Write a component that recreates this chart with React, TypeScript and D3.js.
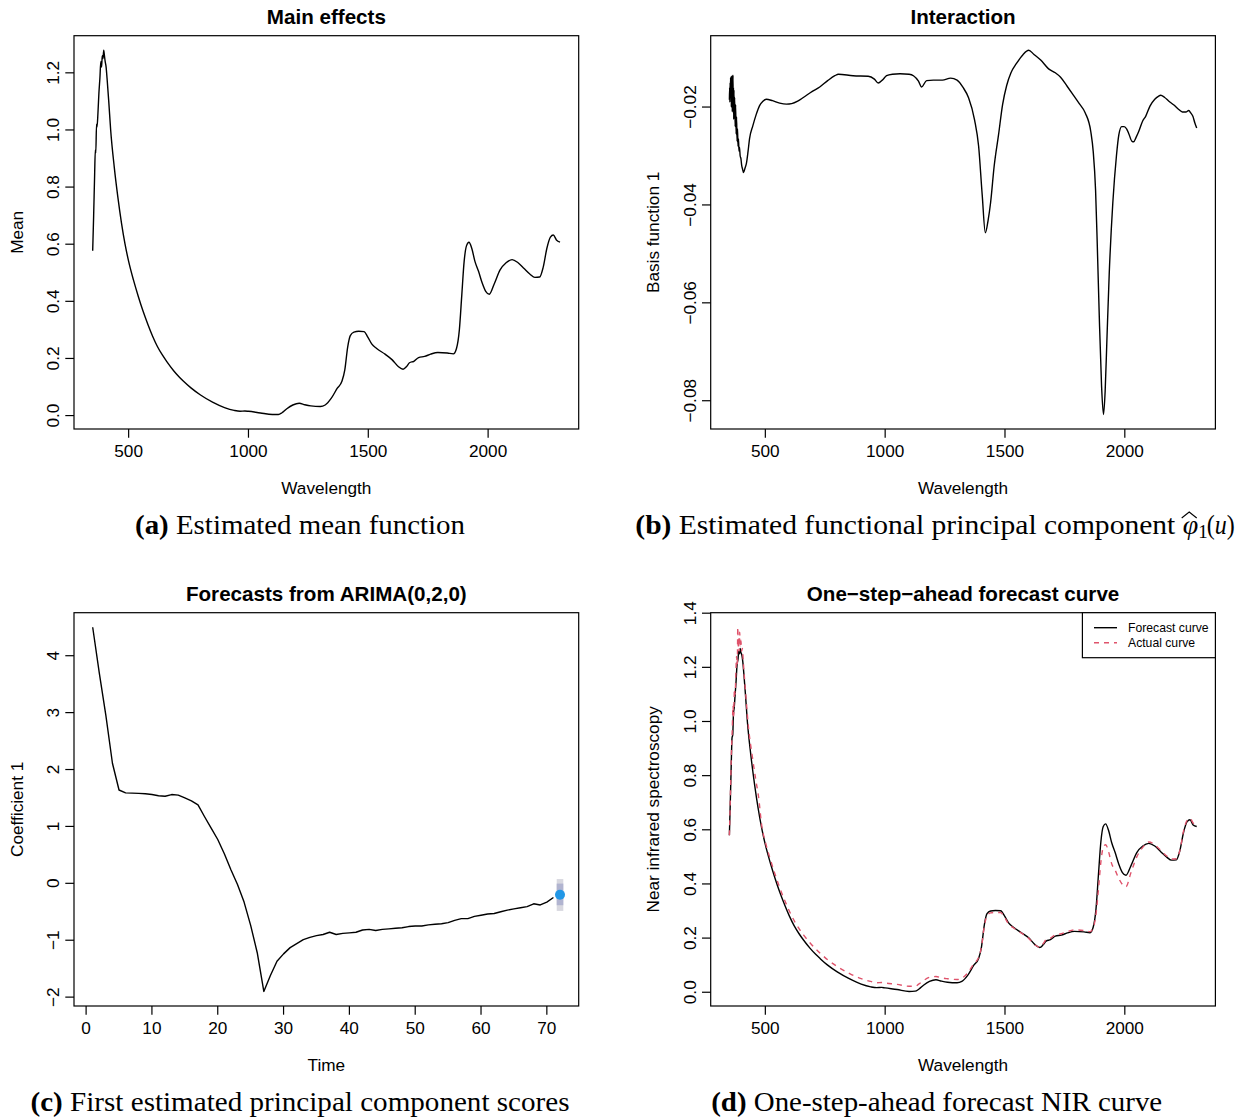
import React from 'react';
import * as d3 from 'd3';

type Pt = [number, number];

// ---------- tick labels ----------
const wavelengthTicks = [500, 1000, 1500, 2000];
const meanTicks = [0, 0.2, 0.4, 0.6, 0.8, 1.0, 1.2];
const basisTicks = [-0.08, -0.06, -0.04, -0.02];
const timeTicks = [0, 10, 20, 30, 40, 50, 60, 70];
const coefTicks = [-2, -1, 0, 1, 2, 3, 4];
const nirTicks = [0, 0.2, 0.4, 0.6, 0.8, 1.0, 1.2, 1.4];

// ---------- (a) mean function ----------
const meanCurve: Pt[] = [
  [350, 0.577], [354, 0.70], [358, 0.84], [361, 0.93], [363, 0.92], [366, 1.02], [368, 1.01],
  [372, 1.06], [376, 1.13], [380, 1.18], [384, 1.24], [387, 1.22], [390, 1.26], [393, 1.25],
  [396, 1.279], [399, 1.26], [402, 1.24], [406, 1.22], [410, 1.18], [417, 1.10], [425, 1.0],
  [440, 0.87], [455, 0.765], [470, 0.675], [485, 0.60], [500, 0.54], [520, 0.475], [540, 0.418],
  [560, 0.366], [580, 0.32], [600, 0.278], [620, 0.242], [640, 0.213], [660, 0.188], [687, 0.158],
  [710, 0.136], [729, 0.12], [760, 0.097], [800, 0.072], [850, 0.047], [900, 0.028], [940, 0.018],
  [965, 0.015], [985, 0.016], [1000, 0.015], [1050, 0.009], [1100, 0.004], [1125, 0.004],
  [1140, 0.010], [1160, 0.024], [1185, 0.037], [1212, 0.043], [1235, 0.038], [1260, 0.034],
  [1300, 0.032], [1320, 0.037], [1345, 0.060], [1370, 0.095], [1390, 0.12], [1402, 0.16],
  [1414, 0.24], [1425, 0.28], [1440, 0.292], [1460, 0.295], [1482, 0.294], [1498, 0.275],
  [1515, 0.25], [1535, 0.235], [1570, 0.215], [1600, 0.195], [1625, 0.172], [1645, 0.162],
  [1660, 0.172], [1672, 0.185], [1690, 0.19], [1710, 0.203], [1735, 0.207], [1760, 0.215],
  [1790, 0.221], [1830, 0.219], [1855, 0.216], [1868, 0.235], [1880, 0.30], [1890, 0.42],
  [1900, 0.54], [1910, 0.595], [1920, 0.607], [1932, 0.585], [1945, 0.54], [1960, 0.505],
  [1975, 0.465], [1990, 0.435], [2005, 0.425], [2025, 0.46], [2050, 0.51], [2075, 0.535],
  [2100, 0.546], [2125, 0.535], [2150, 0.515], [2175, 0.495], [2195, 0.484], [2215, 0.485],
  [2230, 0.52], [2245, 0.585], [2260, 0.625], [2272, 0.632], [2285, 0.615], [2300, 0.607],
];

// ---------- (b) basis function 1 ----------
const basisCurve: Pt[] = [
  [350, -0.0185], [351, -0.0160], [352, -0.0190], [353, -0.0150], [354, -0.0175], [355, -0.0140],
  [356, -0.0165], [357, -0.0138], [358, -0.0200], [359, -0.0145], [360, -0.0190], [361, -0.0136],
  [362, -0.0210], [363, -0.0150], [364, -0.0170], [365, -0.0135], [366, -0.0205], [367, -0.0160],
  [368, -0.0225], [369, -0.0165], [370, -0.0215], [372, -0.0180], [374, -0.0240], [376, -0.0195],
  [378, -0.0255], [380, -0.0220], [382, -0.0270], [384, -0.0245], [386, -0.0280], [388, -0.0265],
  [390, -0.0290], [392, -0.0282], [395, -0.0300], [398, -0.0305], [401, -0.0318], [405, -0.0327],
  [409, -0.0334], [415, -0.0325], [421, -0.0315], [428, -0.0290], [434, -0.0265], [448, -0.0238],
  [462, -0.0215], [476, -0.0197], [490, -0.0188], [504, -0.0184], [530, -0.0187], [560, -0.0192],
  [588, -0.0194], [610, -0.0193], [635, -0.0188], [660, -0.0180], [696, -0.0168], [727, -0.0159],
  [760, -0.0146], [790, -0.0136], [805, -0.0133], [866, -0.0136], [929, -0.0137], [955, -0.0143],
  [971, -0.0151], [988, -0.0145], [1006, -0.0136], [1030, -0.0133], [1062, -0.0132], [1100, -0.0133],
  [1118, -0.0136], [1139, -0.0147], [1152, -0.0159], [1173, -0.0146], [1201, -0.0145], [1239, -0.0145],
  [1273, -0.0141], [1300, -0.0145], [1325, -0.0160], [1348, -0.0181], [1373, -0.0226], [1390, -0.0280],
  [1405, -0.0380], [1418, -0.0457], [1430, -0.0430], [1440, -0.0395], [1455, -0.0320], [1473, -0.0257],
  [1490, -0.0195], [1507, -0.0156], [1525, -0.0130], [1548, -0.0111], [1575, -0.0093], [1599, -0.0084],
  [1620, -0.0092], [1649, -0.0104], [1682, -0.0122], [1710, -0.0130], [1732, -0.0139], [1760, -0.0158],
  [1783, -0.0174], [1810, -0.0193], [1835, -0.0212], [1858, -0.0250], [1868, -0.0290], [1878, -0.0370],
  [1885, -0.0480], [1893, -0.0620], [1903, -0.0770], [1911, -0.0828], [1918, -0.0780], [1925, -0.0680],
  [1935, -0.0540], [1950, -0.0395], [1965, -0.0300], [1975, -0.0257], [1987, -0.0240], [1997, -0.0240],
  [2008, -0.0245], [2017, -0.0255], [2030, -0.0270], [2037, -0.0271], [2047, -0.0262], [2058, -0.0250],
  [2075, -0.0228], [2087, -0.0219], [2105, -0.0198], [2125, -0.0184], [2140, -0.0178], [2150, -0.0176],
  [2165, -0.0180], [2184, -0.0188], [2205, -0.0196], [2225, -0.0205], [2240, -0.0210], [2255, -0.0210],
  [2267, -0.0207], [2275, -0.0212], [2284, -0.0219], [2292, -0.0232], [2300, -0.0243],
];

// ---------- (c) principal component scores, t = 1..71 ----------
const scores = [
  4.5, 3.7, 2.95, 2.11, 1.64, 1.59, 1.585, 1.58, 1.575, 1.56, 1.54, 1.53, 1.56, 1.55, 1.50, 1.45,
  1.38, 1.17, 0.97, 0.77, 0.52, 0.24, -0.02, -0.33, -0.74, -1.22, -1.90, -1.62, -1.37, -1.24, -1.13,
  -1.06, -0.99, -0.95, -0.92, -0.90, -0.86, -0.90, -0.88, -0.87, -0.86, -0.82, -0.81, -0.83, -0.81,
  -0.80, -0.79, -0.78, -0.76, -0.75, -0.75, -0.73, -0.72, -0.71, -0.69, -0.65, -0.62, -0.62, -0.58,
  -0.56, -0.54, -0.53, -0.50, -0.47, -0.45, -0.43, -0.41, -0.36, -0.38, -0.33, -0.25,
];
const forecastTime = 72;
const forecastPoint = -0.2;
const interval80 = [-0.385, -0.005];
const interval95 = [-0.485, 0.075];

// ---------- (d) forecast vs actual ----------
const forecastCurve: Pt[] = [
  [350, 0.58], [354, 0.71], [358, 0.85], [361, 0.94], [364, 0.95], [367, 1.03], [370, 1.05],
  [374, 1.10], [378, 1.15], [382, 1.21], [386, 1.23], [389, 1.26], [392, 1.25], [395, 1.27],
  [398, 1.255], [402, 1.245], [406, 1.22], [410, 1.18], [417, 1.10], [425, 1.0], [440, 0.872],
  [455, 0.768], [470, 0.679], [485, 0.605], [500, 0.545], [520, 0.48], [540, 0.422], [560, 0.37],
  [580, 0.324], [600, 0.282], [620, 0.246], [640, 0.217], [660, 0.192], [687, 0.162], [710, 0.14],
  [729, 0.124], [760, 0.10], [800, 0.075], [850, 0.05], [900, 0.03], [940, 0.02], [965, 0.017],
  [985, 0.018], [1000, 0.016], [1050, 0.010], [1100, 0.003], [1125, 0.004], [1140, 0.011],
  [1160, 0.026], [1185, 0.04], [1212, 0.046], [1235, 0.041], [1260, 0.037], [1300, 0.035],
  [1320, 0.04], [1345, 0.063], [1370, 0.10], [1390, 0.125], [1402, 0.168], [1414, 0.25],
  [1425, 0.29], [1440, 0.30], [1460, 0.302], [1482, 0.301], [1498, 0.282], [1515, 0.256],
  [1535, 0.24], [1570, 0.219], [1600, 0.20], [1625, 0.176], [1645, 0.165], [1660, 0.176],
  [1672, 0.189], [1690, 0.194], [1710, 0.207], [1735, 0.211], [1760, 0.219], [1790, 0.225],
  [1830, 0.223], [1855, 0.22], [1868, 0.24], [1880, 0.31], [1890, 0.435], [1900, 0.555],
  [1910, 0.612], [1920, 0.622], [1932, 0.598], [1945, 0.553], [1960, 0.515], [1975, 0.473],
  [1990, 0.442], [2005, 0.432], [2025, 0.466], [2050, 0.516], [2075, 0.54], [2100, 0.55],
  [2125, 0.54], [2150, 0.519], [2175, 0.499], [2195, 0.488], [2215, 0.489], [2230, 0.524],
  [2245, 0.59], [2260, 0.63], [2272, 0.637], [2285, 0.618], [2300, 0.612],
];
const actualCurve: Pt[] = [
  [350, 0.58], [353, 0.68], [356, 0.80], [359, 0.90], [362, 0.97], [365, 1.06], [368, 1.02],
  [371, 1.12], [374, 1.10], [377, 1.18], [380, 1.24], [383, 1.21], [385, 1.348], [387, 1.27],
  [389, 1.31], [391, 1.26], [393, 1.33], [395, 1.28], [398, 1.30], [401, 1.26], [404, 1.27],
  [408, 1.22], [413, 1.16], [420, 1.08], [430, 0.975], [445, 0.875], [460, 0.785], [472, 0.72],
  [485, 0.615], [500, 0.555], [520, 0.493], [540, 0.437], [560, 0.386], [580, 0.341], [600, 0.30],
  [620, 0.265], [640, 0.236], [660, 0.211], [687, 0.182], [710, 0.16], [729, 0.144], [760, 0.12],
  [800, 0.095], [850, 0.07], [900, 0.05], [940, 0.04], [965, 0.035], [985, 0.036], [1000, 0.034],
  [1050, 0.029], [1100, 0.022], [1125, 0.022], [1140, 0.03], [1160, 0.043], [1185, 0.055],
  [1212, 0.058], [1235, 0.053], [1260, 0.05], [1300, 0.047], [1320, 0.052], [1345, 0.072],
  [1370, 0.105], [1390, 0.128], [1402, 0.168], [1414, 0.245], [1425, 0.282], [1440, 0.293],
  [1460, 0.295], [1482, 0.294], [1498, 0.277], [1515, 0.252], [1535, 0.238], [1570, 0.218],
  [1600, 0.198], [1625, 0.175], [1645, 0.166], [1660, 0.18], [1672, 0.195], [1690, 0.20],
  [1710, 0.212], [1735, 0.216], [1760, 0.224], [1790, 0.23], [1830, 0.228], [1855, 0.224],
  [1868, 0.238], [1880, 0.29], [1890, 0.38], [1900, 0.48], [1910, 0.535], [1920, 0.545],
  [1932, 0.52], [1945, 0.475], [1960, 0.45], [1975, 0.42], [1990, 0.398], [2005, 0.39],
  [2025, 0.44], [2050, 0.50], [2075, 0.535], [2100, 0.555], [2125, 0.545], [2150, 0.524],
  [2175, 0.503], [2195, 0.492], [2215, 0.493], [2230, 0.525], [2245, 0.595], [2260, 0.635],
  [2272, 0.642], [2285, 0.625], [2300, 0.615],
];

// ---------- styling ----------
const W = 1247;
const H = 1120;
const SANS = "'Liberation Sans', Arial, Helvetica, sans-serif";
const SERIF = "'Liberation Serif', 'Times New Roman', serif";
const AXIS_FS = 17.2;
const TITLE_FS = 20.6;
const CAP_FS = 28;
const ACTUAL_COL = '#DF536B';

const BOX_L = 74;
const BOX_R = 578.7;
const BOX_H = 393.3;
const COL_X = [0, 636.7];
const ROW_Y = [35.7, 612.7];
const CAP_DY = 498.3;

const mfmt = (s: string) => s.replace(/-/g, '\u2212');
const pad = (ext: [number, number]): [number, number] => {
  const r = ext[1] - ext[0];
  return [ext[0] - 0.04 * r, ext[1] + 0.04 * r];
};

type Scale = d3.ScaleLinear<number, number>;

function Panel(props: {
  sx: number;
  top: number;
  xDomain: [number, number];
  yDomain: [number, number];
  xTicks: number[];
  yTicks: number[];
  xFmt: (n: number) => string;
  yFmt: (n: number) => string;
  title: string;
  xLabel: string;
  yLabel: string;
  render: (x: Scale, y: Scale) => React.ReactNode;
}) {
  const { sx, top, xDomain, yDomain, xTicks, yTicks, xFmt, yFmt, title, xLabel, yLabel, render } = props;
  const left = sx + BOX_L;
  const right = sx + BOX_R;
  const bottom = top + BOX_H;
  const x = d3.scaleLinear().domain(xDomain).range([left, right]);
  const y = d3.scaleLinear().domain(yDomain).range([bottom, top]);
  const cx = (left + right) / 2;
  const cid = `clip-${Math.round(sx)}-${Math.round(top)}`;
  return (
    <g>
      <defs>
        <clipPath id={cid}>
          <rect x={left} y={top} width={right - left} height={bottom - top} />
        </clipPath>
      </defs>
      <g clipPath={`url(#${cid})`}>{render(x, y)}</g>
      <rect x={left} y={top} width={right - left} height={bottom - top} fill="none" stroke="#000" strokeWidth={1.2} />
      {xTicks.map((t) => (
        <g key={`xt${t}`}>
          <line x1={x(t)} x2={x(t)} y1={bottom} y2={bottom + 8.7} stroke="#000" strokeWidth={1.2} />
          <text x={x(t)} y={bottom + 21.5} textAnchor="middle" dominantBaseline="central" fontFamily={SANS} fontSize={AXIS_FS}>
            {xFmt(t)}
          </text>
        </g>
      ))}
      {yTicks.map((t) => (
        <g key={`yt${t}`}>
          <line x1={left - 8.7} x2={left} y1={y(t)} y2={y(t)} stroke="#000" strokeWidth={1.2} />
          <text
            transform={`translate(${left - 20.7},${y(t)}) rotate(-90)`}
            textAnchor="middle"
            dominantBaseline="central"
            fontFamily={SANS}
            fontSize={AXIS_FS}
          >
            {yFmt(t)}
          </text>
        </g>
      ))}
      <text x={cx} y={top - 19} textAnchor="middle" dominantBaseline="central" fontFamily={SANS} fontWeight="bold" fontSize={TITLE_FS}>
        {title}
      </text>
      <text x={cx} y={bottom + 59.3} textAnchor="middle" dominantBaseline="central" fontFamily={SANS} fontSize={AXIS_FS}>
        {xLabel}
      </text>
      <text
        transform={`translate(${left - 57.3},${(top + bottom) / 2}) rotate(-90)`}
        textAnchor="middle"
        dominantBaseline="central"
        fontFamily={SANS}
        fontSize={AXIS_FS}
      >
        {yLabel}
      </text>
    </g>
  );
}

function Caption(props: { sx: number; top: number; width: number; children: React.ReactNode }) {
  return (
    <text
      x={props.sx + 300 - props.width / 2}
      y={props.top + CAP_DY}
      fontFamily={SERIF}
      fontSize={CAP_FS}
      textLength={props.width}
      lengthAdjust="spacingAndGlyphs"
    >
      {props.children}
    </text>
  );
}

function CaptionB(props: { sx: number; top: number }) {
  const { sx } = props;
  const base = props.top + CAP_DY;
  return (
    <g fontFamily={SERIF} fill="#000">
      <text x={sx - 1.4} y={base} fontSize={CAP_FS} textLength={540} lengthAdjust="spacingAndGlyphs">
        <tspan fontWeight="bold">(b)</tspan> Estimated functional principal component
      </text>
      <text x={sx + 546} y={base} fontSize={CAP_FS} fontStyle="italic">
        {'\u03C6'}
      </text>
      <path
        d={`M${sx + 545},${base - 16} L${sx + 552.5},${base - 22} L${sx + 560},${base - 16}`}
        fill="none"
        stroke="#000"
        strokeWidth={1.1}
      />
      <text x={sx + 561.5} y={base + 3.5} fontSize={19}>
        1
      </text>
      <text x={sx + 570} y={base} fontSize={CAP_FS} textLength={28} lengthAdjust="spacingAndGlyphs">
        (<tspan fontStyle="italic">u</tspan>)
      </text>
    </g>
  );
}

const smoothLine = (x: Scale, y: Scale) =>
  d3
    .line<Pt>()
    .x((d) => x(d[0]))
    .y((d) => y(d[1]))
    .curve(d3.curveMonotoneX);

export default function App() {
  const wlDomain = pad(d3.extent(meanCurve, (d) => d[0]) as [number, number]);
  const meanDomain = pad(d3.extent(meanCurve, (d) => d[1]) as [number, number]);
  const basisDomain = pad(d3.extent(basisCurve, (d) => d[1]) as [number, number]);
  const scorePts: Pt[] = scores.map((v, i) => [i + 1, v]);
  const timeDomain = pad([1, forecastTime]);
  const scoreDomain = pad(d3.extent([...scores, ...interval95]) as [number, number]);
  const nirDomain = pad(d3.extent([...forecastCurve, ...actualCurve], (d) => d[1]) as [number, number]);

  const fmt1 = d3.format('.1f');
  const fmt2 = (n: number) => mfmt(d3.format('.2f')(n));
  const fmtInt = (n: number) => mfmt(d3.format('d')(n));

  return (
    <svg width={W} height={H} style={{ position: 'absolute', left: 0, top: 0, background: '#fff' }}>
      <rect x={0} y={0} width={W} height={H} fill="#fff" />

      {/* (a) */}
      <Panel
        sx={COL_X[0]}
        top={ROW_Y[0]}
        xDomain={wlDomain}
        yDomain={meanDomain}
        xTicks={wavelengthTicks}
        yTicks={meanTicks}
        xFmt={fmtInt}
        yFmt={fmt1}
        title="Main effects"
        xLabel="Wavelength"
        yLabel="Mean"
        render={(x, y) => (
          <path d={smoothLine(x, y)(meanCurve) || ''} fill="none" stroke="#000" strokeWidth={1.4} strokeLinejoin="round" />
        )}
      />

      {/* (b) */}
      <Panel
        sx={COL_X[1]}
        top={ROW_Y[0]}
        xDomain={wlDomain}
        yDomain={basisDomain}
        xTicks={wavelengthTicks}
        yTicks={basisTicks}
        xFmt={fmtInt}
        yFmt={fmt2}
        title="Interaction"
        xLabel="Wavelength"
        yLabel="Basis function 1"
        render={(x, y) => (
          <path d={smoothLine(x, y)(basisCurve) || ''} fill="none" stroke="#000" strokeWidth={1.4} strokeLinejoin="round" />
        )}
      />

      {/* (c) */}
      <Panel
        sx={COL_X[0]}
        top={ROW_Y[1]}
        xDomain={timeDomain}
        yDomain={scoreDomain}
        xTicks={timeTicks}
        yTicks={coefTicks}
        xFmt={fmtInt}
        yFmt={fmtInt}
        title="Forecasts from ARIMA(0,2,0)"
        xLabel="Time"
        yLabel="Coefficient 1"
        render={(x, y) => {
          const line = d3
            .line<Pt>()
            .x((d) => x(d[0]))
            .y((d) => y(d[1]));
          return (
            <g>
              <path d={line(scorePts) || ''} fill="none" stroke="#000" strokeWidth={1.4} strokeLinejoin="round" />
              <rect
                x={x(forecastTime) - 3.3}
                width={6.6}
                y={y(interval95[1])}
                height={y(interval95[0]) - y(interval95[1])}
                fill="#D8D8E0"
              />
              <rect
                x={x(forecastTime) - 3.3}
                width={6.6}
                y={y(interval80[1])}
                height={y(interval80[0]) - y(interval80[1])}
                fill="#B1B4D0"
              />
              <circle cx={x(forecastTime)} cy={y(forecastPoint)} r={5} fill="#2297E6" />
            </g>
          );
        }}
      />

      {/* (d) */}
      <Panel
        sx={COL_X[1]}
        top={ROW_Y[1]}
        xDomain={wlDomain}
        yDomain={nirDomain}
        xTicks={wavelengthTicks}
        yTicks={nirTicks}
        xFmt={fmtInt}
        yFmt={fmt1}
        title={'One\u2212step\u2212ahead forecast curve'}
        xLabel="Wavelength"
        yLabel="Near infrared spectroscopy"
        render={(x, y) => (
          <g>
            <path d={smoothLine(x, y)(forecastCurve) || ''} fill="none" stroke="#000" strokeWidth={1.4} strokeLinejoin="round" />
            <path
              d={smoothLine(x, y)(actualCurve) || ''}
              fill="none"
              stroke={ACTUAL_COL}
              strokeWidth={1.4}
              strokeDasharray="5,5"
            />
          </g>
        )}
      />

      {/* legend (d) */}
      {(() => {
        const right = COL_X[1] + BOX_R;
        const top = ROW_Y[1];
        const lw = 133;
        const rows = [
          { label: 'Forecast curve', color: '#000', dash: undefined as string | undefined },
          { label: 'Actual curve', color: ACTUAL_COL, dash: '5,5' },
        ];
        return (
          <g>
            <rect x={right - lw} y={top} width={lw} height={45} fill="#fff" stroke="#000" strokeWidth={1.2} />
            {rows.map((r, i) => (
              <g key={r.label}>
                <line
                  x1={right - 121.4}
                  x2={right - 98.4}
                  y1={top + 15 + i * 15}
                  y2={top + 15 + i * 15}
                  stroke={r.color}
                  strokeWidth={1.4}
                  strokeDasharray={r.dash}
                />
                <text x={right - 87.4} y={top + 15 + i * 15} dominantBaseline="central" fontFamily={SANS} fontSize={12.2}>
                  {r.label}
                </text>
              </g>
            ))}
          </g>
        );
      })()}

      {/* captions */}
      <Caption sx={COL_X[0]} top={ROW_Y[0]} width={330}>
        <tspan fontWeight="bold">(a)</tspan> Estimated mean function
      </Caption>
      <CaptionB sx={COL_X[1]} top={ROW_Y[0]} />
      <Caption sx={COL_X[0]} top={ROW_Y[1]} width={539}>
        <tspan fontWeight="bold">(c)</tspan> First estimated principal component scores
      </Caption>
      <Caption sx={COL_X[1]} top={ROW_Y[1]} width={451}>
        <tspan fontWeight="bold">(d)</tspan> One-step-ahead forecast NIR curve
      </Caption>
    </svg>
  );
}
